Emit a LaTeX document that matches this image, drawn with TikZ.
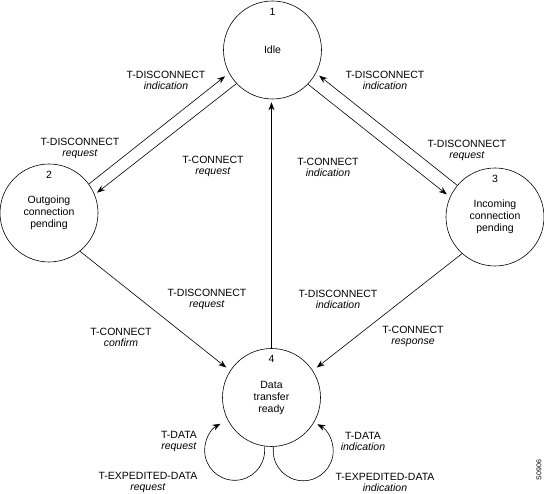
\documentclass[tikz,border=0pt]{standalone}
\usepackage{fontspec}
\setmainfont{Liberation Sans}
\usepackage{tikz}
\usetikzlibrary{arrows.meta}
\newcommand{\prim}[2]{#1\\\textit{#2}}

\begin{document}
\begin{tikzpicture}[x=1pt, y=1pt, line width=0.6pt, >={Stealth[length=8pt,width=6pt]},
  every node/.style={font=\fontsize{10.5}{11}\selectfont},
  phase/.style={draw, circle, minimum size=98pt, inner sep=0pt, align=center, font=\fontsize{10.5}{12}\selectfont},
  prim/.style={align=center, inner sep=1pt}]
\useasboundingbox (0,0) rectangle (544,494);
\node[phase, label={[label distance=-15pt, inner sep=0pt]90:1}] (s1) at (272.5,444) {Idle};
\node[phase, label={[label distance=-15pt, inner sep=0pt]90:2}] (s2) at (49,281) {Outgoing\\connection\\pending};
\node[phase, label={[label distance=-15pt, inner sep=0pt]90:3}] (s3) at (495,277) {Incoming\\connection\\pending};
\node[phase, label={[label distance=-15pt, inner sep=0pt]90:4}] (s4) at (271.5,96.5) {Data\\transfer\\ready};
\node[prim] (dind1) at (166,414) {\prim{T-DISCONNECT}{indication}};
\node[prim] (dreq2) at (80,346) {\prim{T-DISCONNECT}{request}};
\node[prim] (creq) at (213,328) {\prim{T-CONNECT}{request}};
\node[prim] (dind3) at (385,414) {\prim{T-DISCONNECT}{indication}};
\node[prim] (dreq3) at (467,344) {\prim{T-DISCONNECT}{request}};
\node[prim] (cind) at (328,327) {\prim{T-CONNECT}{indication}};
\node[prim] (dreq4) at (207,195) {\prim{T-DISCONNECT}{request}};
\node[prim] (dind4) at (338,195) {\prim{T-DISCONNECT}{indication}};
\node[prim] (cconf) at (121,157) {\prim{T-CONNECT}{confirm}};
\node[prim] (cresp) at (413,158) {\prim{T-CONNECT}{response}};
\node[prim] (dtreq) at (179,53) {\prim{T-DATA}{request}};
\node[prim] (dtind) at (363,53) {\prim{T-DATA}{indication}};
\node[prim] (exreq) at (148,12) {\prim{T-EXPEDITED-DATA}{request}};
\node[prim] (exind) at (385,12) {\prim{T-EXPEDITED-DATA}{indication}};
\node[rotate=90, inner sep=0pt, font=\fontsize{7}{8}\selectfont] (figid) at (539,24) {S0906};
% connectors between the states
\draw[->, shorten >=5pt] (s2.36) -- (s1.208);
\draw[->, shorten >=3pt] (s1.223) -- (s2.22);
\draw[->, shorten >=4pt] (s3.140) -- (s1.332);
\draw[->, shorten >=4pt] (s1.316) -- (s3.156);
\draw[->, shorten >=5pt] (s2.309) -- (s4.147);
\draw[->, shorten >=5pt] (s3.228) -- (s4.33);
\draw[->, shorten >=3pt] (s4.north) -- (s4.north |- s1.south);
% data loops
\draw[->] (s4.262) -- ++(0,-4) arc[start angle=0, end angle=-242, radius=30];
\draw[->] (s4.272) -- ++(0,-4) arc[start angle=180, end angle=422, radius=30];
\end{tikzpicture}
\end{document}
